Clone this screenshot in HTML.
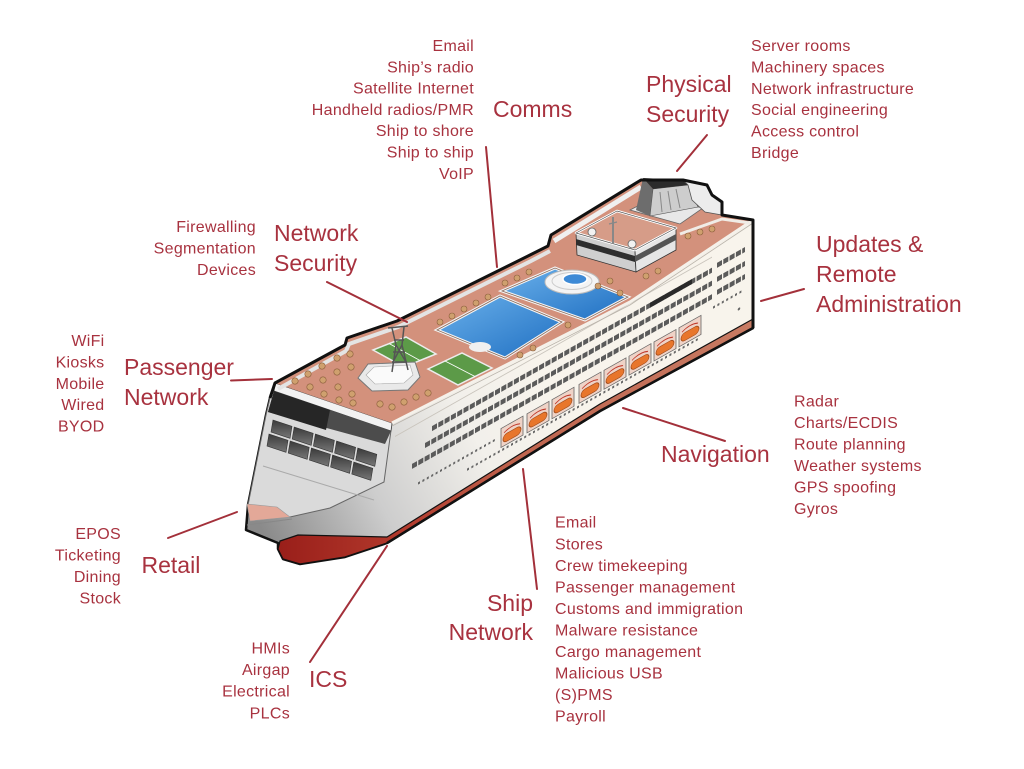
<!DOCTYPE html>
<html><head><meta charset="utf-8">
<style>
html,body{margin:0;padding:0;background:#fff;}
svg{display:block}
.t{font-family:"Liberation Sans",Arial,sans-serif;fill:#a8323f;}
.s{font-size:16px;letter-spacing:0.3px}
.b{font-size:23px}
</style></head><body>
<svg width="1024" height="769" viewBox="0 0 1024 769" xmlns="http://www.w3.org/2000/svg">
<defs>
<linearGradient id="hull" gradientUnits="userSpaceOnUse" x1="270" y1="545" x2="560" y2="385">
<stop offset="0" stop-color="#8a8a8a"/>
<stop offset="0.35" stop-color="#cdcdcd"/>
<stop offset="0.7" stop-color="#f2f0eb"/>
<stop offset="1" stop-color="#f8f4ec"/>
</linearGradient>
<linearGradient id="red" gradientUnits="userSpaceOnUse" x1="280" y1="0" x2="760" y2="0">
<stop offset="0" stop-color="#9a1f1a"/>
<stop offset="0.25" stop-color="#b2392c"/>
<stop offset="0.5" stop-color="#c0654f"/>
<stop offset="1" stop-color="#c87c64"/>
</linearGradient>
<linearGradient id="pool" x1="0" y1="0" x2="1" y2="1">
<stop offset="0" stop-color="#6ab0ea"/><stop offset="1" stop-color="#1f6fc2"/>
</linearGradient>
<linearGradient id="win" x1="0" y1="0" x2="0" y2="1">
<stop offset="0" stop-color="#3a3a3a"/><stop offset="1" stop-color="#777"/>
</linearGradient>
</defs>

<!-- hull body -->
<path d="M275,383 L392,423 L630,302 L753,220 L753,328 L600,411 L387,543 L345,557 L300,564 L283,559 L278,549 L278,543 L246,530 L248,505 L266,415 L270,398 Z" fill="url(#hull)" stroke="#111" stroke-width="2.5" stroke-linejoin="round"/>

<!-- front face -->
<path d="M275,383 L392,423 L384,482 L330,508 L290,517 L248,505 L266,415 L270,398 Z" fill="#dadada" stroke="#666" stroke-width="1"/>
<path d="M247,504 L277,507 L290,517 L250,521 Z" fill="#e3a898" stroke="#999" stroke-width="0.6"/>
<line x1="247" y1="525" x2="292" y2="519" stroke="#888" stroke-width="1"/>
<line x1="263" y1="466" x2="374" y2="500" stroke="#aaa" stroke-width="1"/>

<!-- red stripe + bulb -->
<path d="M753,319 L753,328 L600,411 L387,543 L345,557 L300,564 L283,559 L278,549 L280,541 L298,535 L387,537 L600,404 Z" fill="url(#red)" stroke="#111" stroke-width="1.2" stroke-linejoin="round"/>
<path d="M387,543 L600,411 L753,328" fill="none" stroke="#111" stroke-width="2.5"/>

<!-- front rail & dark band -->
<path d="M275,383 L392,423 L391,431 L274,391 Z" fill="#f2f2f2" stroke="#444" stroke-width="0.8"/>
<path d="M274,391 L391,431 L385,444 L268,412 Z" fill="#4c4c4c"/>
<path d="M274,391 L330,410 L326,430 L268,412 Z" fill="#262626"/>

<!-- front windows -->
<g fill="url(#win)" stroke="#333" stroke-width="0.6">
<polygon points="273,420 292,426.3 290,438.3 271,432"/>
<polygon points="294.2,427 313.2,433.3 311.2,445.3 292.2,439"/>
<polygon points="315.4,434 334.4,440.3 332.4,452.3 313.4,446"/>
<polygon points="336.6,441 355.6,447.3 353.6,459.3 334.6,453"/>
<polygon points="357.8,448 376.8,454.3 374.8,466.3 355.8,460"/>
<polygon points="269,434 288,440.3 286,452.3 267,446"/>
<polygon points="290.2,441 309.2,447.3 307.2,459.3 288.2,453"/>
<polygon points="311.4,448 330.4,454.3 328.4,466.3 309.4,460"/>
<polygon points="332.6,455 351.6,461.3 349.6,473.3 330.6,467"/>
<polygon points="353.8,462 372.8,468.3 370.8,480.3 351.8,474"/>
</g>

<!-- hull side details (skewed) -->
<g transform="skewY(-29.5)">
<line x1="395" y1="660" x2="712" y2="660" stroke="#c9c4bc" stroke-width="1"/>
<g stroke="#5a5a5a" stroke-width="5" stroke-dasharray="5 1.3">
<line x1="432" y1="673" x2="712" y2="673"/>
<line x1="425" y1="686" x2="712" y2="686"/>
<line x1="412" y1="699.5" x2="712" y2="699.5"/>
<line x1="717" y1="671" x2="745" y2="671"/>
<line x1="717" y1="685" x2="745" y2="685"/>
<line x1="717" y1="698" x2="745" y2="698"/>
</g>
<line x1="650" y1="673" x2="692" y2="673" stroke="#2a2a2a" stroke-width="5"/>
<g stroke="#666" stroke-width="2.2" stroke-dasharray="2 2.4">
<line x1="467" y1="734" x2="700" y2="734"/>
<line x1="418" y1="720" x2="497" y2="720"/>
<line x1="713" y1="711" x2="743" y2="711"/>
</g>
<g stroke="#666" stroke-width="0.8">
<rect x="501" y="712" width="22" height="19" fill="#efd3c7"/>
<rect x="527" y="712" width="22" height="19" fill="#efd3c7"/>
<rect x="552" y="712" width="22" height="19" fill="#efd3c7"/>
<rect x="579" y="712" width="22" height="19" fill="#efd3c7"/>
<rect x="604" y="712" width="22" height="19" fill="#efd3c7"/>
<rect x="629" y="712" width="22" height="19" fill="#efd3c7"/>
<rect x="654" y="712" width="22" height="19" fill="#efd3c7"/>
<rect x="679" y="712" width="22" height="19" fill="#efd3c7"/>
</g>
<g fill="#e8762c" stroke="#a04a1a" stroke-width="0.7">
<rect x="503" y="720" width="18" height="8" rx="4"/>
<rect x="529" y="720" width="18" height="8" rx="4"/>
<rect x="554" y="720" width="18" height="8" rx="4"/>
<rect x="581" y="720" width="18" height="8" rx="4"/>
<rect x="606" y="720" width="18" height="8" rx="4"/>
<rect x="631" y="720" width="18" height="8" rx="4"/>
<rect x="656" y="720" width="18" height="8" rx="4"/>
<rect x="681" y="720" width="18" height="8" rx="4"/>
</g>
<g stroke="#c0392b" stroke-width="1" fill="none">
<path d="M504,718 q8,-4 16,0"/><path d="M530,718 q8,-4 16,0"/><path d="M555,718 q8,-4 16,0"/><path d="M582,718 q8,-4 16,0"/>
<path d="M607,718 q8,-4 16,0"/><path d="M632,718 q8,-4 16,0"/><path d="M657,718 q8,-4 16,0"/><path d="M682,718 q8,-4 16,0"/>
</g>
<circle cx="739" cy="727" r="1.3" fill="#666"/>
</g>

<!-- deck -->
<path d="M275,383 L345,345 L347,338 L397,321 L530,255 L548,246 L551,235 L641,180 L683,180 L707,185 L712,195 L722,202 L722,215 L753,220 L630,302 L392,423 Z" fill="#d3917c"/>
<polyline points="392,423 630,302 753,220" fill="none" stroke="#f5f1ea" stroke-width="3"/>
<polyline points="392,426 630,305 753,223" fill="none" stroke="#b9b3aa" stroke-width="0.8"/>
<polyline points="278,389 346,351 349,344 398,327 531,261 550,251" fill="none" stroke="#e4e4e4" stroke-width="4"/>
<polyline points="554,241 641,187" fill="none" stroke="#f0f0f0" stroke-width="5"/>
<polyline points="680,234 722,219 750,223" fill="none" stroke="#f0ece6" stroke-width="3"/>

<!-- pools -->
<path d="M437,330 L500,296 L562,322 L505,358 Z" fill="url(#pool)" stroke="#f4f4f4" stroke-width="3"/>
<path d="M437,330 L500,296 L562,322 L505,358 Z" fill="none" stroke="#8a6a5a" stroke-width="0.8"/>
<ellipse cx="480" cy="347" rx="11" ry="5" fill="#f0f0f0"/>
<path d="M502,291 L555,268 L628,297 L585,320 Z" fill="url(#pool)" stroke="#f4f4f4" stroke-width="3"/>
<path d="M502,291 L555,268 L628,297 L585,320 Z" fill="none" stroke="#8a6a5a" stroke-width="0.8"/>
<ellipse cx="572" cy="282" rx="27" ry="12" fill="#f4f4f4" stroke="#bbb" stroke-width="1"/>
<ellipse cx="572" cy="281" rx="20" ry="8.5" fill="none" stroke="#ccc" stroke-width="1"/>
<ellipse cx="575" cy="279" rx="12" ry="5.5" fill="#3d8ad6" stroke="#fff" stroke-width="1.5"/>

<!-- courts -->
<path d="M373,350 L406,337 L436,354 L404,367 Z" fill="#5c9a48" stroke="#ececec" stroke-width="1.5"/>
<line x1="389" y1="343.5" x2="420" y2="360.5" stroke="#fff" stroke-width="0.8"/>
<path d="M428,369 L462,353 L492,368 L458,385 Z" fill="#5c9a48" stroke="#ececec" stroke-width="1.5"/>
<line x1="445" y1="361" x2="475" y2="376.5" stroke="#fff" stroke-width="0.8"/>

<!-- bow structure -->
<path d="M358,378 L368,364 L415,362 L420,377 L408,390 L372,391 Z" fill="#e9e9e9" stroke="#777" stroke-width="1"/>
<path d="M366,375 L374,367 L410,365 L413,375 L404,383 L375,384 Z" fill="#fafafa" stroke="#aaa" stroke-width="0.6"/>
<g stroke="#555" stroke-width="1.5" fill="none">
<path d="M388,328 L408,326 M392,328 L396,345 L392,372 M404,327 L402,345 L408,370 M394,340 L404,340 M393,352 L405,352 M392,362 L407,362 M396,345 L406,362 M402,345 L393,362"/>
</g>

<!-- umbrellas -->
<g fill="#cfa06e" stroke="#8b5e3c" stroke-width="0.6">
<circle cx="295" cy="381" r="3.2"/><circle cx="308" cy="374" r="3.2"/><circle cx="310" cy="387" r="3.2"/>
<circle cx="322" cy="366" r="3.2"/><circle cx="323" cy="380" r="3.2"/><circle cx="324" cy="394" r="3.2"/>
<circle cx="337" cy="358" r="3.2"/><circle cx="337" cy="372" r="3.2"/><circle cx="338" cy="387" r="3.2"/>
<circle cx="339" cy="400" r="3.2"/><circle cx="350" cy="354" r="3.2"/><circle cx="351" cy="367" r="3.2"/>
<circle cx="352" cy="394" r="3.2"/><circle cx="353" cy="403" r="3.2"/>
<circle cx="380" cy="404" r="3.2"/><circle cx="392" cy="407" r="3.2"/><circle cx="404" cy="402" r="3.2"/>
<circle cx="416" cy="397" r="3.2"/><circle cx="428" cy="393" r="3.2"/>
<circle cx="440" cy="322" r="3"/><circle cx="452" cy="316" r="3"/><circle cx="464" cy="309" r="3"/>
<circle cx="476" cy="303" r="3"/><circle cx="488" cy="297" r="3"/>
<circle cx="505" cy="283" r="3"/><circle cx="517" cy="278" r="3"/><circle cx="529" cy="272" r="3"/>
<circle cx="598" cy="286" r="3"/><circle cx="610" cy="281" r="3"/><circle cx="620" cy="293" r="3"/>
<circle cx="520" cy="355" r="3"/><circle cx="533" cy="348" r="3"/><circle cx="568" cy="325" r="3"/>
<circle cx="646" cy="276" r="3"/><circle cx="658" cy="271" r="3"/>
<circle cx="688" cy="236" r="3"/><circle cx="700" cy="232" r="3"/><circle cx="712" cy="229" r="3"/>
</g>

<!-- upper block -->
<path d="M576,233 L635,250 L636,272 L577,255 Z" fill="#cfcfcf" stroke="#333" stroke-width="0.8"/>
<path d="M576,239 L635,256 L635,262 L576,245 Z" fill="#2e2e2e"/>
<path d="M635,250 L676,228 L676,250 L636,272 Z" fill="#e6e6e6" stroke="#333" stroke-width="0.8"/>
<path d="M635,256 L676,234 L676,240 L635,262 Z" fill="#555"/>
<path d="M576,233 L617,211 L676,228 L635,250 Z" fill="#d69c88" stroke="#fff" stroke-width="2.5" stroke-linejoin="round"/>
<path d="M576,233 L617,211 L676,228 L635,250 Z" fill="none" stroke="#555" stroke-width="0.7"/>

<!-- funnel -->
<path d="M630,210 L655,197 L703,208 L680,224 Z" fill="#e8e8e8" stroke="#666" stroke-width="0.8"/>
<path d="M643,178 L653,189 L650,216 L636,210 Z" fill="#6d6d6d"/>
<path d="M653,189 L688,185 L698,207 L650,216 Z" fill="#cdcdcd" stroke="#555" stroke-width="0.6"/>
<path d="M660,192 L662,212 M668,191 L671,210 M676,189 L680,208" stroke="#888" stroke-width="1"/>
<path d="M643,178 L683,180 L688,185 L653,189 Z" fill="#2b2b2b"/>
<path d="M683,180 L707,185 L712,195 L722,202 L722,215 L705,212 L692,200 L688,185 Z" fill="#ececec" stroke="#555" stroke-width="0.8"/>

<!-- mast & radomes -->
<line x1="613" y1="217" x2="613" y2="244" stroke="#888" stroke-width="2"/>
<line x1="609" y1="224" x2="617" y2="222" stroke="#888" stroke-width="1.2"/>
<circle cx="592" cy="232" r="4" fill="#f2f2f2" stroke="#666" stroke-width="0.8"/>
<circle cx="632" cy="244" r="4" fill="#f2f2f2" stroke="#666" stroke-width="0.8"/>

<!-- silhouette outline -->
<polyline points="270,398 275,383 345,345 347,338 397,321 530,255 548,246 551,235 641,180 683,180 707,185 712,195 722,202 722,215 753,220 753,328" fill="none" stroke="#111" stroke-width="3" stroke-linejoin="round"/>

<!-- connectors -->
<g stroke="#a3303a" stroke-width="2" stroke-linecap="round">
<line x1="486" y1="147" x2="497" y2="267"/>
<line x1="707" y1="135" x2="677" y2="171"/>
<line x1="327" y1="282" x2="407" y2="322"/>
<line x1="231" y1="380.5" x2="272" y2="379"/>
<line x1="168" y1="538" x2="237" y2="512"/>
<line x1="310" y1="662" x2="387" y2="546"/>
<line x1="523" y1="469" x2="537" y2="589"/>
<line x1="761" y1="301" x2="804" y2="289"/>
<line x1="623" y1="408" x2="725" y2="441"/>
</g>

<!-- Comms -->
<g class="t s" text-anchor="end">
<text x="474" y="51">Email</text>
<text x="474" y="72.3">Ship’s radio</text>
<text x="474" y="93.6">Satellite Internet</text>
<text x="474" y="114.9">Handheld radios/PMR</text>
<text x="474" y="136.2">Ship to shore</text>
<text x="474" y="157.5">Ship to ship</text>
<text x="474" y="178.8">VoIP</text>
</g>
<text class="t b" x="493" y="117">Comms</text>

<!-- Physical Security -->
<text class="t b" x="646" y="92">Physical</text>
<text class="t b" x="646" y="122">Security</text>
<g class="t s">
<text x="751" y="51">Server rooms</text>
<text x="751" y="72.4">Machinery spaces</text>
<text x="751" y="93.8">Network infrastructure</text>
<text x="751" y="115.2">Social engineering</text>
<text x="751" y="136.6">Access control</text>
<text x="751" y="158">Bridge</text>
</g>

<!-- Network Security -->
<text class="t b" x="274" y="241">Network</text>
<text class="t b" x="274" y="271">Security</text>
<g class="t s" text-anchor="end">
<text x="256" y="232">Firewalling</text>
<text x="256" y="253.5">Segmentation</text>
<text x="256" y="275">Devices</text>
</g>

<!-- Passenger Network -->
<text class="t b" x="124" y="375">Passenger</text>
<text class="t b" x="124" y="405">Network</text>
<g class="t s" text-anchor="end">
<text x="104.5" y="346">WiFi</text>
<text x="104.5" y="367.4">Kiosks</text>
<text x="104.5" y="388.8">Mobile</text>
<text x="104.5" y="410.2">Wired</text>
<text x="104.5" y="431.6">BYOD</text>
</g>

<!-- Retail -->
<text class="t b" x="141.5" y="573">Retail</text>
<g class="t s" text-anchor="end">
<text x="121" y="539">EPOS</text>
<text x="121" y="560.5">Ticketing</text>
<text x="121" y="582">Dining</text>
<text x="121" y="603.5">Stock</text>
</g>

<!-- ICS -->
<text class="t b" x="309" y="687">ICS</text>
<g class="t s" text-anchor="end">
<text x="290" y="653.3">HMIs</text>
<text x="290" y="675">Airgap</text>
<text x="290" y="696.7">Electrical</text>
<text x="290" y="718.3">PLCs</text>
</g>

<!-- Ship Network -->
<g class="t b" text-anchor="end">
<text x="533" y="611">Ship</text>
<text x="533" y="640">Network</text>
</g>
<g class="t s">
<text x="555" y="527.7">Email</text>
<text x="555" y="549.3">Stores</text>
<text x="555" y="570.8">Crew timekeeping</text>
<text x="555" y="592.4">Passenger management</text>
<text x="555" y="613.9">Customs and immigration</text>
<text x="555" y="635.5">Malware resistance</text>
<text x="555" y="657">Cargo management</text>
<text x="555" y="678.6">Malicious USB</text>
<text x="555" y="700.1">(S)PMS</text>
<text x="555" y="721.7">Payroll</text>
</g>

<!-- Updates -->
<text class="t b" x="816" y="252">Updates &amp;</text>
<text class="t b" x="816" y="282">Remote</text>
<text class="t b" x="816" y="312">Administration</text>

<!-- Navigation -->
<text class="t b" x="661" y="462">Navigation</text>
<g class="t s">
<text x="794" y="406.7">Radar</text>
<text x="794" y="428.2">Charts/ECDIS</text>
<text x="794" y="449.7">Route planning</text>
<text x="794" y="471.2">Weather systems</text>
<text x="794" y="492.7">GPS spoofing</text>
<text x="794" y="514.2">Gyros</text>
</g>
</svg>
</body></html>
